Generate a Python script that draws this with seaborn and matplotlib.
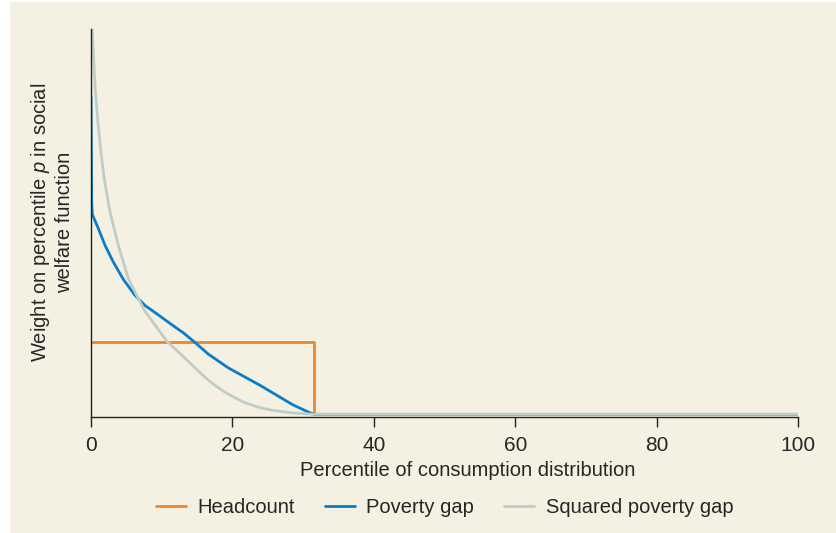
import pandas as pd
import numpy as np
import seaborn as sns
import matplotlib.pyplot as plt
from matplotlib.patches import Rectangle

# данные (вес в условных единицах, headcount = 1)
headcount_x = [0, 31.6, 31.6, 100]
headcount_y = [1.0, 1.0, 0.0, 0.0]

gap_x = [0, 0.1, 0.2, 1.0, 1.98, 3.15, 4.57, 6.22, 7.64, 9.52, 11.64, 13.1, 14.47, 16.59,
         19.42, 23.9, 28.57, 31.0, 31.6, 100]
gap_y = [4.38, 2.9, 2.75, 2.57, 2.33, 2.10, 1.86, 1.64, 1.50, 1.37, 1.22, 1.12, 1.01, 0.83,
         0.64, 0.40, 0.13, 0.02, 0.0, 0.0]

sq_x = [0.14, 0.33, 0.57, 0.95, 1.41, 1.88, 2.36, 2.69, 3.86, 5.28, 6.93, 7.64, 10.71,
        13.76, 16.36, 17.8, 19.2, 21.5, 23.9, 26.0, 28.5, 31.6, 100]
sq_y = [5.34, 4.98, 4.52, 4.06, 3.61, 3.24, 2.97, 2.79, 2.33, 1.87, 1.55, 1.42, 1.01,
        0.73, 0.49, 0.38, 0.29, 0.17, 0.09, 0.05, 0.02, 0.0, 0.0]

series = ['Headcount', 'Poverty gap', 'Squared poverty gap']
colors = ['#eb872d', '#0a7dc8', '#bfcdc6']

df = pd.concat([
    pd.DataFrame({'p': headcount_x, 'w': headcount_y, 'series': series[0]}),
    pd.DataFrame({'p': gap_x, 'w': gap_y, 'series': series[1]}),
    pd.DataFrame({'p': sq_x, 'w': sq_y, 'series': series[2]}),
], ignore_index=True)

bg = '#f4f0e2'
sns.set_style('white')
plt.rcParams['font.family'] = ['Liberation Sans', 'DejaVu Sans']
plt.rcParams['mathtext.fontset'] = 'custom'
plt.rcParams['mathtext.it'] = 'Liberation Sans:italic'
plt.rcParams['mathtext.rm'] = 'Liberation Sans'

fig = plt.figure(figsize=(8.37, 5.33), dpi=100, facecolor='white')
fig.patches.append(Rectangle((10 / 837, 0), 1, 531 / 533, transform=fig.transFigure,
                             facecolor=bg, edgecolor='none', zorder=-10))
ax = fig.add_axes([91 / 837, 1 - 416.5 / 533, 707 / 837, 387.5 / 533])
ax.set_facecolor(bg)

sns.lineplot(data=df, x='p', y='w', hue='series', palette=colors, hue_order=series,
             estimator=None, sort=False, linewidth=2, ax=ax)

ax.set_xlim(0, 100)
ax.set_ylim(-0.03, 5.31)
ax.set_xticks([0, 20, 40, 60, 80, 100])
ax.set_yticks([])
ax.tick_params(axis='x', direction='out', length=7, width=1, color='#222222',
               labelsize=15, pad=7, bottom=True)
for s in ['top', 'right']:
    ax.spines[s].set_visible(False)
for s in ['left', 'bottom']:
    ax.spines[s].set_color('#222222')
    ax.spines[s].set_linewidth(1)

ax.set_xlabel('Percentile of consumption distribution', fontsize=14.5)
ax.xaxis.set_label_coords(0.533, -0.115)
ax.set_ylabel('Weight on percentile $p$ in social\nwelfare function', fontsize=14.5, labelpad=12)

sns.move_legend(ax, 'upper center', bbox_to_anchor=(0.5, -0.163), ncol=3, frameon=False,
                title=None, fontsize=14.5, handlelength=1.5, handletextpad=0.55,
                columnspacing=1.5)

fig.savefig('out.png', dpi=100, facecolor=fig.get_facecolor())
